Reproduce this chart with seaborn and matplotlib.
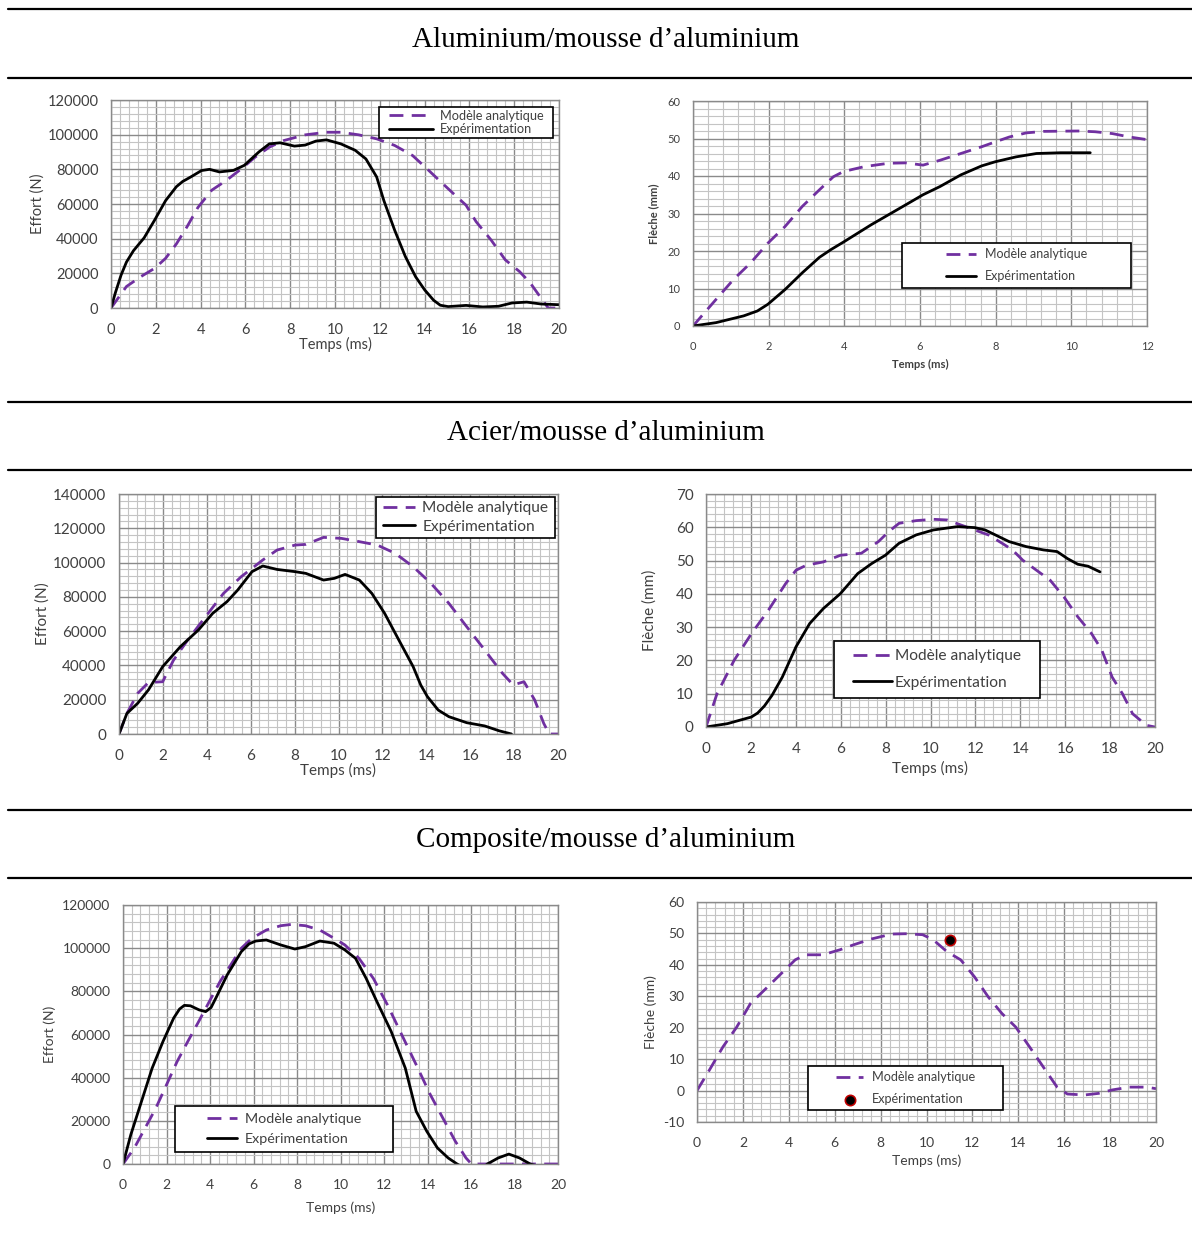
import numpy as np
import pandas as pd
import matplotlib
matplotlib.use("Agg")
import matplotlib.pyplot as plt
import seaborn as sns
from matplotlib.ticker import MultipleLocator
from matplotlib.lines import Line2D
from matplotlib.patches import Rectangle

# ---- data ----
# Aluminium / mousse d'aluminium : effort
alu_f_exp_t = [0, 0.2, 0.45, 0.69, 1.0, 1.48, 1.96, 2.44, 2.92, 3.2, 3.56, 4.04, 4.4, 4.84, 5.47, 5.95, 6.6, 7.07, 7.55, 8.19, 8.67, 9.15, 9.62,
               10.26, 10.9, 11.38, 11.86, 12.18, 12.66, 13.14, 13.6, 14.0, 14.4, 14.7, 15.05, 15.85, 16.6, 17.3, 17.9, 18.56, 19.2, 20]
alu_f_exp_v = [0, 9000, 19000, 26500, 33000, 40500, 51000, 62000, 70000, 73000, 75600, 79300, 80000, 78500, 79400, 82300, 90000, 94700, 95300, 93400, 94000, 96300, 97000,
               94700, 91000, 86000, 75600, 62000, 45000, 29700, 18000, 10500, 4500, 1600, 800, 1500, 600, 1000, 2900, 3400, 2300, 1900]
alu_f_ana_t = [0, 0.69, 1.32, 1.96, 2.44, 2.92, 3.4, 3.88, 4.5, 5.16, 5.79, 6.43, 7.07, 7.71, 8.67, 9.62, 10.26, 11.06, 11.86, 12.66,
               13.46, 14.1, 14.73, 15.37, 15.85, 16.3, 16.97, 17.6, 18.24, 18.72, 19.2, 19.52, 20]
alu_f_ana_v = [0, 12400, 18000, 23000, 28700, 37000, 47000, 58000, 68000, 73700, 80000, 87000, 92800, 96600, 99900, 101400, 101400, 99900, 97600, 93800,
               88000, 80400, 72700, 65000, 59300, 49800, 39200, 27800, 21000, 14400, 5700, 0, 0]

# Aluminium / mousse d'aluminium : fleche
alu_d_ana_t = [0, 0.61, 1.07, 1.52, 1.98, 2.43, 2.89, 3.34, 3.71, 3.98, 4.53, 5.17, 5.62, 6.08, 6.53, 7.08, 7.63, 7.99, 8.36, 8.81,
               9.27, 10.18, 10.63, 11.09, 11.54, 12]
alu_d_ana_v = [0, 7.1, 12.4, 16.8, 22.1, 26.5, 31.9, 36.3, 39.8, 41.2, 42.5, 43.4, 43.5, 42.9, 44.2, 46.0, 47.8, 49.1, 50.4, 51.5,
               51.9, 52.0, 51.8, 51.3, 50.4, 49.7]
alu_d_exp_t = [0, 0.61, 1.34, 1.7, 1.98, 2.43, 2.89, 3.34, 3.65, 3.98, 4.71, 5.62, 6.08, 6.53, 7.08, 7.63, 7.99, 8.54, 9.08, 9.72, 10.5]
alu_d_exp_v = [0, 0.9, 2.7, 4.0, 5.8, 9.7, 14.2, 18.3, 20.4, 22.4, 27.0, 32.3, 35.0, 37.2, 40.3, 42.7, 43.8, 45.1, 46.0, 46.2, 46.2]

# Acier / mousse d'aluminium : effort
aci_f_exp_t = [0, 0.36, 0.85, 1.34, 1.99, 2.8, 3.62, 4.27, 4.92, 5.41, 6.06, 6.55, 7.2, 8.02, 8.51, 9.32, 9.81, 10.3, 10.95, 11.52,
               12.1, 12.75, 13.4, 13.75, 14.05, 14.54, 15.03, 15.84, 16.66, 17.31, 17.88]
aci_f_exp_v = [0, 12000, 17900, 25700, 39300, 51000, 60700, 70400, 77200, 84000, 94700, 98000, 96000, 94700, 93700, 89800, 90800, 93100, 89800, 82000,
               70400, 54800, 39300, 28500, 21800, 14000, 10100, 6600, 4700, 1900, 0]
aci_f_ana_t = [0, 0.36, 0.85, 1.34, 1.99, 2.48, 3.13, 3.94, 4.76, 5.57, 6.55, 7.2, 8.02, 8.51, 9.32, 10.14, 10.95, 11.77, 12.58, 13.4,
               14.21, 15.03, 15.84, 16.66, 17.47, 17.96, 18.45, 18.94, 19.35, 19.6, 20]
aci_f_ana_v = [0, 12000, 23700, 30000, 30500, 43000, 54800, 68400, 82000, 91800, 101500, 107300, 110200, 110600, 114700, 114100, 112200, 110200, 105400, 97600,
               87900, 76200, 62600, 49000, 35400, 28600, 30500, 19800, 6200, 0, 0]

# Acier / mousse d'aluminium : fleche
aci_d_ana_t = [0, 0.49, 1.25, 2.02, 2.78, 3.55, 4.01, 4.47, 5.23, 5.99, 6.92, 7.68, 8.14, 8.6, 9.36, 10.13, 10.74, 11.35, 11.97, 12.58,
               13.19, 13.65, 14.11, 14.72, 15.33, 15.94, 16.56, 17.17, 17.63, 18.09, 18.55, 19.0, 19.62, 20]
aci_d_ana_v = [0, 10, 20, 28, 35.1, 43.1, 47.1, 48.6, 49.6, 51.6, 52.2, 55.7, 58.7, 61.2, 62.0, 62.4, 62.2, 60.7, 59.2, 57.7,
               55.2, 53.2, 50.1, 47.1, 44.1, 39.1, 33.1, 28.1, 23.1, 15.0, 10.0, 4.0, 0.5, 0]
aci_d_exp_t = [0, 0.95, 2.02, 2.3, 2.6, 2.94, 3.4, 4.01, 4.62, 5.23, 5.99, 6.76, 7.38, 7.99, 8.6, 9.36, 10.13, 11.2, 11.97, 12.43, 12.89,
               13.5, 14.26, 15.03, 15.64, 16.1, 16.56, 17.02, 17.55]
aci_d_exp_v = [0, 1, 3, 4.2, 6.3, 9.5, 15, 24.1, 31.1, 35.6, 40.1, 46.1, 49.1, 51.6, 55.2, 57.7, 59.2, 60.2, 59.9, 59.2, 57.7,
               55.7, 54.2, 53.2, 52.7, 50.6, 48.9, 48.3, 46.6]

# Composite / mousse d'aluminium : effort
com_f_exp_t = [0, 0.36, 0.85, 1.34, 1.84, 2.33, 2.6, 2.82, 3.1, 3.5, 3.8, 4.05, 4.3, 4.79, 5.44, 5.8, 6.1, 6.59, 7.25, 7.9, 8.39, 9.05, 9.7, 10.2,
               10.69, 11.18, 11.67, 12.33, 12.98, 13.48, 13.97, 14.46, 14.95, 15.36, 15.9, 16.4, 16.75, 17.25, 17.74, 18.23, 18.72, 19.0]
com_f_exp_v = [0, 13600, 29000, 44400, 56800, 67600, 71800, 73500, 73300, 71400, 70600, 72500, 77500, 87600, 98400, 102000, 103300, 103800, 101500, 99600, 100700, 103300, 102300, 99200,
               95300, 86000, 75300, 61400, 44400, 24400, 15100, 7400, 2800, 0, -3000, -3000, 0, 2800, 4600, 2800, 0, -800]
com_f_ana_t = [0, 0.52, 1.02, 1.51, 2.0, 2.49, 2.98, 3.48, 3.97, 4.46, 4.95, 5.44, 5.93, 6.59, 7.25, 7.74, 8.39, 9.05, 9.7, 10.2,
               10.85, 11.51, 12.16, 12.82, 13.48, 14.13, 14.79, 15.28, 15.77, 16.02, 20]
com_f_ana_v = [0, 7400, 16700, 25900, 36700, 47500, 56800, 66000, 75300, 84500, 92200, 100000, 104600, 108400, 110400, 111000, 110400, 108400, 104600, 101500,
               95300, 86000, 73700, 59800, 46000, 32100, 19700, 10500, 2800, 0, 0]

# Composite / mousse d'aluminium : fleche
com_d_ana_t = [0, 0.53, 1.13, 1.73, 2.33, 3.08, 3.68, 4.28, 4.73, 5.48, 6.23, 6.83, 7.58, 8.48, 9.08, 9.83, 10.29, 10.89, 11.49, 12.09,
               12.69, 13.29, 13.89, 14.49, 15.09, 15.69, 16.14, 16.89, 17.49, 18.09, 18.84, 19.59, 20]
com_d_ana_v = [0, 6.4, 13.9, 20.2, 27.7, 33.0, 37.3, 41.6, 43.2, 43.2, 44.8, 46.4, 48.2, 49.8, 49.9, 49.6, 48.0, 44.2, 41.6, 36.2,
               29.8, 24.5, 20.2, 13.9, 7.5, 1.1, -1.1, -1.4, -0.9, 0.2, 1.1, 1.1, 0.6]
com_d_exp_t = [11.04]
com_d_exp_v = [48.0]

titles = ["Aluminium/mousse d\u2019aluminium", "Acier/mousse d\u2019aluminium", "Composite/mousse d\u2019aluminium"]
lbl_ana = "Modèle analytique"
lbl_exp = "Expérimentation"

# ---- style ----
sns.set_style("white")
plt.rcParams["font.family"] = ["Lato", "DejaVu Sans"]
plt.rcParams["axes.unicode_minus"] = False
PURPLE = "#7030a0"
TXT = "#404040"
MAJ = "#8a8a8a"
MIN = "#c4c4c4"

W, H = 1192, 1240
fig = plt.figure(figsize=(W / 100, H / 100), dpi=100)


def px_rect(x0, x1, y0, y1):
    return [x0 / W, 1 - y1 / H, (x1 - x0) / W, (y1 - y0) / H]


def style_axes(a, xlim, ylim, xmaj, ymaj, fs, xlabel, ylabel, bold=False, xpad=2, ypad=4):
    a.set_xlim(*xlim)
    a.set_ylim(*ylim)
    a.xaxis.set_major_locator(MultipleLocator(xmaj))
    a.xaxis.set_minor_locator(MultipleLocator(xmaj / 5))
    a.yaxis.set_major_locator(MultipleLocator(ymaj))
    a.yaxis.set_minor_locator(MultipleLocator(ymaj / 5))
    a.grid(which="major", color=MAJ, lw=1.0)
    a.grid(which="minor", color=MIN, lw=0.8)
    a.set_axisbelow(True)
    a.tick_params(which="both", length=0, labelsize=fs, colors=TXT)
    a.tick_params(axis="x", pad=10.5)
    a.tick_params(axis="y", pad=9)
    for s in a.spines.values():
        s.set_color(MAJ)
        s.set_linewidth(1.0)
    w = "bold" if bold else "normal"
    a.set_xlabel(xlabel, fontsize=fs, color=TXT, labelpad=xpad, fontweight=w)
    a.set_ylabel(ylabel, fontsize=fs, color=TXT, labelpad=ypad, fontweight=w)


def draw_pair(a, t_ana, v_ana, t_exp, v_exp):
    sns.lineplot(x=t_ana, y=v_ana, ax=a, color=PURPLE, lw=2.0, linestyle=(0, (5, 3)), label=lbl_ana, sort=False)
    sns.lineplot(x=t_exp, y=v_exp, ax=a, color="black", lw=2.0, label=lbl_exp, sort=False)


def legend(a, fs, box, hl, tp, ls):
    # box = (left, top, right, bottom) in figure pixels; white framed box, entries centred in it
    x0, y0, x1, y1 = box
    a.add_patch(Rectangle((x0 / W, 1 - y1 / H), (x1 - x0) / W, (y1 - y0) / H, transform=fig.transFigure,
                          facecolor="white", edgecolor="black", lw=1.2, zorder=11))
    lg = a.legend(fontsize=fs, loc="center", bbox_to_anchor=((x0 + x1) / 2 / W, 1 - (y0 + y1) / 2 / H),
                  bbox_transform=fig.transFigure, frameon=False, borderpad=0, borderaxespad=0,
                  handlelength=hl, handletextpad=tp, labelspacing=ls)
    lg.set_zorder(12)
    for t in lg.get_texts():
        t.set_color(TXT)
    return lg


# ---- panel 1 ----
ax1 = fig.add_axes(px_rect(111, 559, 100, 308))
draw_pair(ax1, alu_f_ana_t, alu_f_ana_v, alu_f_exp_t, alu_f_exp_v)
style_axes(ax1, (0, 20), (0, 120000), 2, 20000, 10.5, "Temps (ms)", "Effort (N)", xpad=0, ypad=2)
legend(ax1, 9.2, (379, 107, 553, 138), 3.5, 0.5, 0.12)

# ---- panel 2 ----
ax2 = fig.add_axes(px_rect(693, 1147, 101, 326))
draw_pair(ax2, alu_d_ana_t, alu_d_ana_v, alu_d_exp_t, alu_d_exp_v)
style_axes(ax2, (0, 12), (0, 60), 2, 10, 8, "Temps (ms)", "Flèche (mm)", bold=True, xpad=5, ypad=6)
legend(ax2, 9, (902, 243, 1131, 288), 2.4, 0.7, 0.8)

# ---- panel 3 ----
ax3 = fig.add_axes(px_rect(119, 558, 494, 734))
draw_pair(ax3, aci_f_ana_t, aci_f_ana_v, aci_f_exp_t, aci_f_exp_v)
style_axes(ax3, (0, 20), (0, 140000), 2, 20000, 11, "Temps (ms)", "Effort (N)", xpad=0, ypad=2.5)
legend(ax3, 11.2, (376, 497, 555, 538), 2.05, 0.5, 0.3)

# ---- panel 4 ----
ax4 = fig.add_axes(px_rect(706, 1155, 494, 727))
draw_pair(ax4, aci_d_ana_t, aci_d_ana_v, aci_d_exp_t, aci_d_exp_v)
style_axes(ax4, (0, 20), (0, 70), 2, 10, 11, "Temps (ms)", "Flèche (mm)", xpad=4, ypad=14)
legend(ax4, 11.2, (834, 641, 1040, 698), 2.5, 0.2, 0.82)

# ---- panel 5 ----
ax5 = fig.add_axes(px_rect(123, 558, 905, 1164))
draw_pair(ax5, com_f_ana_t, com_f_ana_v, com_f_exp_t, com_f_exp_v)
style_axes(ax5, (0, 20), (0, 120000), 2, 20000, 10, "Temps (ms)", "Effort (N)", xpad=8, ypad=4.4)
legend(ax5, 10.3, (175, 1106, 393, 1152), 2.1, 0.55, 0.56)

# ---- panel 6 ----
ax6 = fig.add_axes(px_rect(697, 1156, 902, 1122))
sns.lineplot(x=com_d_ana_t, y=com_d_ana_v, ax=ax6, color=PURPLE, lw=2.0, linestyle=(0, (5, 3)), label=lbl_ana, sort=False)
sns.scatterplot(x=com_d_exp_t, y=com_d_exp_v, ax=ax6, color="black", edgecolor="#c00000", linewidth=1.2, s=55,
                label=lbl_exp, zorder=5)
style_axes(ax6, (0, 20), (-10, 60), 2, 10, 10, "Temps (ms)", "Flèche (mm)", xpad=4, ypad=4.4)
legend(ax6, 9.1, (808, 1066, 1003, 1110), 2.2, 0.7, 0.77)

# ---- section titles and rules ----
for y in [9, 78, 402, 470, 810, 878]:
    fig.add_artist(Line2D([8 / W, 1], [1 - y / H, 1 - y / H], color="black", lw=1.6, transform=fig.transFigure))
for txt, yb in zip(titles, [47, 440, 847]):
    fig.text(606 / W, 1 - yb / H, txt, ha="center", va="baseline", fontsize=21,
             family=["Liberation Serif", "DejaVu Serif"], color="black")

fig.savefig("out.png", dpi=100)
